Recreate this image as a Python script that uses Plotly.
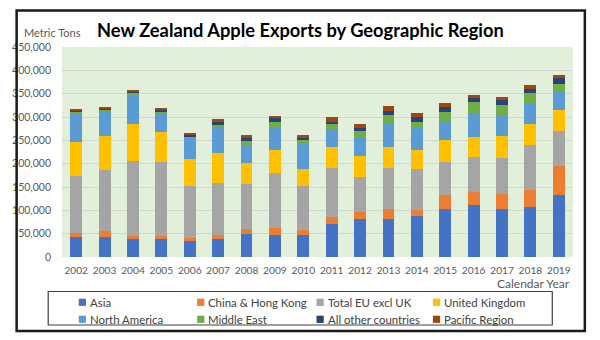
import plotly.graph_objects as go

# New Zealand apple exports (metric tons) by destination region
years = ["2002", "2003", "2004", "2005", "2006", "2007", "2008", "2009", "2010",
         "2011", "2012", "2013", "2014", "2015", "2016", "2017", "2018", "2019"]

asia = [42300, 42300, 38000, 38700, 33700, 38000, 50200, 48000, 48000,
        70200, 81700, 81700, 88200, 101800, 111100, 103900, 107500, 132600]
china_hk = [10000, 13600, 6400, 5700, 6400, 8600, 10700, 14400, 10800,
            15800, 15100, 20800, 12200, 31500, 28000, 30900, 36600, 62400]
eu_excl_uk = [121900, 130500, 162000, 159900, 111900, 112500, 95400, 116800, 93200,
              105400, 75200, 88900, 87400, 71000, 74500, 76700, 96000, 76000]
united_kingdom = [73100, 72400, 78900, 64500, 58000, 63100, 44400, 49500, 36500,
                  43700, 43800, 45100, 40900, 47300, 43700, 48700, 44500, 43000]
north_america = [60700, 55200, 61700, 40700, 45900, 56300, 38300, 50300, 53500,
                 39400, 40100, 48500, 48800, 38700, 51000, 43300, 46400, 39500]
middle_east = [4500, 2800, 3600, 1600, 2100, 4500, 10000, 11000, 8000,
               10100, 15100, 19700, 12500, 21200, 23700, 22000, 19500, 17000]
all_other = [2200, 2000, 4300, 3400, 3000, 5500, 6500, 8000, 5000,
             5700, 5000, 8600, 10000, 11000, 8000, 10500, 9000, 12500]
pacific = [3300, 3200, 3500, 4500, 5300, 6500, 5500, 5000, 6000,
           8700, 8600, 9300, 8000, 7000, 7600, 7500, 9500, 7700]

series_names = ["Asia", "China & Hong Kong", "Total EU excl UK", "United Kingdom",
                "North America", "Middle East", "All other countries", "Pacific Region"]
series_values = [asia, china_hk, eu_excl_uk, united_kingdom,
                 north_america, middle_east, all_other, pacific]
series_colors = ["#4472C4", "#ED7D31", "#A5A5A5", "#FFC000",
                 "#5B9BD5", "#70AD47", "#264478", "#9E480E"]

y_ticks = [0, 50000, 100000, 150000, 200000, 250000, 300000, 350000, 400000, 450000]

W, H = 600, 340
ML, MR, MT, MB = 55, 27, 47, 83
PW, PH = W - ML - MR, H - MT - MB


def px_x(x):
    return (x - ML) / PW


def px_y(y):
    return (H - MB - y) / PH


FONT = "Lato, 'Open Sans', sans-serif"

fig = go.Figure()
for name, vals, col in zip(series_names, series_values, series_colors):
    fig.add_trace(go.Bar(x=years, y=vals, name=name, marker_color=col,
                         marker_line_width=0, showlegend=False))

shapes = []
annotations = []

# outer chart frame
shapes.append(dict(type="rect", xref="paper", yref="paper",
                   x0=px_x(9), x1=px_x(585), y0=px_y(331), y1=px_y(10.5),
                   line=dict(color="#1a1a1a", width=2.5), fillcolor="rgba(0,0,0,0)",
                   layer="above"))
# legend box
shapes.append(dict(type="rect", xref="paper", yref="paper",
                   x0=px_x(41), x1=px_x(552), y0=px_y(325), y1=px_y(291.5),
                   line=dict(color="#404040", width=1.2), fillcolor="white",
                   layer="above"))

# legend entries: four columns, two rows
col_x = [72, 192, 313, 431]
row_y = [302.3, 319.3]
for i, (name, col) in enumerate(zip(series_names, series_colors)):
    cx = col_x[i % 4]
    cy = row_y[i // 4]
    shapes.append(dict(type="rect", xref="paper", yref="paper",
                       x0=px_x(cx), x1=px_x(cx + 7.3),
                       y0=px_y(cy + 3.6), y1=px_y(cy - 3.6),
                       line=dict(width=0), fillcolor=col, layer="above"))
    annotations.append(dict(text=name, xref="paper", yref="paper",
                            x=px_x(cx + 9.3), y=px_y(cy), xanchor="left",
                            yanchor="middle", showarrow=False,
                            font=dict(family=FONT, size=11.4, color="#404040")))

annotations.append(dict(text="<b>New Zealand Apple Exports by Geographic Region</b>",
                        xref="paper", yref="paper", x=px_x(297), y=px_y(29.5),
                        xanchor="center", yanchor="middle", showarrow=False,
                        font=dict(family=FONT, size=18.3, color="#000000")))
annotations.append(dict(text="Metric Tons", xref="paper", yref="paper",
                        x=px_x(14), y=px_y(32.3), xanchor="left", yanchor="middle",
                        showarrow=False,
                        font=dict(family=FONT, size=11, color="#595959")))
annotations.append(dict(text="Calendar Year", xref="paper", yref="paper",
                        x=px_x(572), y=px_y(283.5), xanchor="right", yanchor="middle",
                        showarrow=False,
                        font=dict(family=FONT, size=12, color="#595959")))

fig.update_layout(
    width=W, height=H,
    margin=dict(l=ML, r=MR, t=MT, b=MB, pad=0),
    barmode="stack", bargap=0.58,
    paper_bgcolor="white", plot_bgcolor="#E2EFDA",
    shapes=shapes, annotations=annotations,
    font=dict(family=FONT, color="#595959"),
    xaxis=dict(type="category", showgrid=False, zeroline=False, showline=False,
               ticks="", tickfont=dict(family=FONT, size=10.2, color="#595959"),
               ticklabelstandoff=6, fixedrange=True),
    yaxis=dict(range=[0, 450000], tickvals=y_ticks, tickformat=",",
               showgrid=True, gridcolor="#CFD8CA", gridwidth=1,
               zeroline=False, showline=False, ticks="",
               tickfont=dict(family=FONT, size=10.5, color="#595959"),
               ticklabelstandoff=10, fixedrange=True),
)

fig.write_html("out.html", config={"displayModeBar": False})
